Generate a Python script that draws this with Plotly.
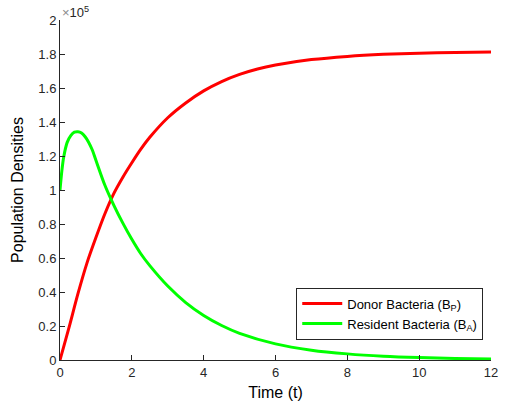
import numpy as np
import plotly.graph_objects as go

SCALE = 1e5

# Time points (t) and population densities (in units of 1e5)
t_donor = [0, 0.25, 0.5, 0.75, 1.0, 1.25, 1.5, 1.75, 2.0, 2.25, 2.5, 3.0, 3.5,
           4.0, 4.5, 5.0, 5.5, 6.0, 7.0, 8.0, 9.0, 10.0, 11.0, 12.0]
donor = [0, 0.19, 0.39, 0.57, 0.72, 0.86, 0.98, 1.075, 1.16, 1.24, 1.31, 1.425,
         1.512, 1.583, 1.638, 1.68, 1.712, 1.735, 1.767, 1.786, 1.798, 1.805,
         1.809, 1.812]

t_resident = [0, 0.05, 0.1, 0.2, 0.3, 0.4, 0.5, 0.6, 0.7, 0.8, 0.9, 1.0, 1.25,
              1.5, 1.75, 2.0, 2.25, 2.5, 3.0, 3.5, 4.0, 4.5, 5.0, 6.0, 7.0, 8.0,
              9.0, 10.0, 11.0, 12.0]
resident = [1.0, 1.11, 1.19, 1.28, 1.32, 1.34, 1.343, 1.335, 1.313, 1.28, 1.235,
            1.175, 1.028, 0.91, 0.805, 0.71, 0.625, 0.555, 0.435, 0.338, 0.262,
            0.203, 0.157, 0.095, 0.058, 0.036, 0.022, 0.014, 0.009, 0.006]

x_ticks = [0, 2, 4, 6, 8, 10, 12]
y_ticks = [0, 0.2, 0.4, 0.6, 0.8, 1, 1.2, 1.4, 1.6, 1.8, 2]
y_tick_text = ["0", "0.2", "0.4", "0.6", "0.8", "1", "1.2", "1.4", "1.6", "1.8", "2"]

AXIS = "#262626"
FONT = "Liberation Sans, Arial, sans-serif"

fig = go.Figure()
fig.add_trace(go.Scatter(
    x=t_donor, y=np.array(donor) * SCALE, mode="lines",
    line=dict(color="#ff0000", width=3, shape="spline", smoothing=0.8),
    name="Donor Bacteria (B<sub>P</sub>)"))
fig.add_trace(go.Scatter(
    x=t_resident, y=np.array(resident) * SCALE, mode="lines",
    line=dict(color="#00ff00", width=3, shape="spline", smoothing=0.8),
    name="Resident Bacteria (B<sub>A</sub>)"))

fig.update_layout(
    width=508, height=409,
    margin=dict(l=60, r=10, t=20, b=49),
    paper_bgcolor="white", plot_bgcolor="white",
    font=dict(family=FONT, color=AXIS, size=13),
    showlegend=True,
    legend=dict(x=0.982, y=0.06, xanchor="right", yanchor="bottom",
                bgcolor="white", bordercolor=AXIS, borderwidth=1,
                font=dict(size=13, color="#000000"),
                tracegroupgap=0, itemwidth=40),
    xaxis=dict(range=[0, 12], tickvals=x_ticks, showgrid=False, zeroline=False,
               showline=True, linecolor=AXIS, linewidth=1,
               ticks="inside", ticklen=5, tickcolor=AXIS,
               tickfont=dict(size=13, color=AXIS),
               title=dict(text="Time (t)", font=dict(size=16, color="#000000"),
                          standoff=8)),
    yaxis=dict(range=[0, 2 * SCALE], tickvals=[v * SCALE for v in y_ticks],
               ticktext=y_tick_text, showgrid=False, zeroline=False,
               showline=True, linecolor=AXIS, linewidth=1,
               ticks="inside", ticklen=5, tickcolor=AXIS,
               tickfont=dict(size=13, color=AXIS),
               title=dict(text="Population Densities",
                          font=dict(size=16, color="#000000"), standoff=10)),
)

fig.add_annotation(x=0, y=1, xref="paper", yref="paper", xanchor="left",
                   yanchor="bottom", yshift=-2, showarrow=False,
                   text="<span style='color:#8a8a8a'>×</span>10<sup>5</sup>",
                   font=dict(size=13, color=AXIS))

fig.write_html("out.html")
